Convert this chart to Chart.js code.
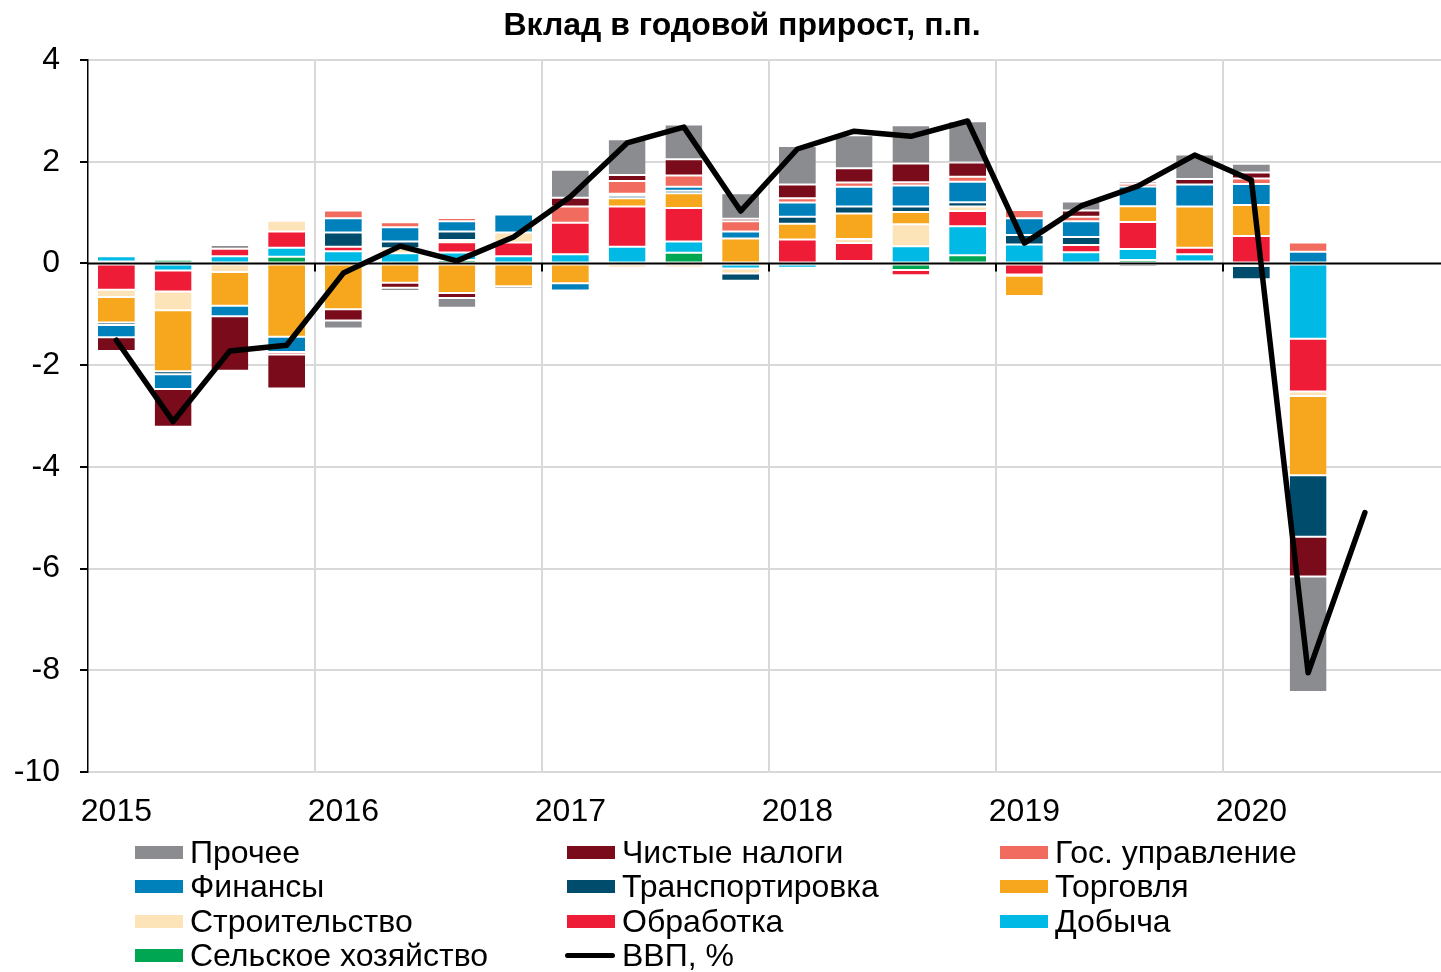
<!DOCTYPE html>
<html>
<head>
<meta charset="utf-8">
<script src="https://cdn.jsdelivr.net/npm/chart.js@4"></script>
<style>
  html, body { margin: 0; padding: 0; background: #fff; overflow: hidden; }
  .wrap { position: relative; width: 1460px; height: 972px; }
  #title {
    position: absolute; left: 0; top: 5px; width: 1484px; text-align: center;
    font-family: 'Liberation Sans', Arial, sans-serif; font-size: 32px; font-weight: bold;
    line-height: 38px; color: #000;
  }
  #legend {
    position: absolute; left: 135px; top: 835px;
    display: grid; grid-template-columns: 432px 433px 300px;
    font-family: 'Liberation Sans', Arial, sans-serif; font-size: 32px; color: #000;
  }
  .item { height: 34.5px; display: flex; align-items: center; white-space: nowrap; }
  .sw { width: 48px; height: 13px; margin-right: 7px; flex: none; }
  .sw.line { height: 5px; border-radius: 3px; width: 50px; margin-left: -2px; }
</style>
</head>
<body>
<div class="wrap">
  <canvas id="chart"></canvas>
  <div id="title">Вклад в годовой прирост, п.п.</div>
  <div id="legend"></div>
</div>
<script>
// quarters 2015 Q1 .. 2020 Q4
const quarters = [];
for (let yr = 2015; yr <= 2020; yr++) {
  for (let q = 1; q <= 4; q++) quarters.push(yr + ' Q' + q);
}

// contributions, p.p. (stack order from zero outwards)
const agri      = [0.04, 0.07, 0, 0.13, 0, 0, 0.065, 0.02, 0, 0, 0.21, 0, 0, 0.05, -0.13, 0.16, -0.02, 0, 0.065, 0.04, 0, 0];
const mining    = [0.10, -0.14, 0.14, 0.18, 0.24, 0.20, 0.15, 0.12, 0.18, 0.33, 0.22, -0.10, -0.085, 0, 0.34, 0.57, 0.37, 0.22, 0.22, 0.14, -0.05, -1.48];
const manuf     = [-0.52, -0.41, 0.15, 0.32, 0.09, 0, 0.20, 0.27, 0.62, 0.79, 0.66, 0, 0.47, 0.35, -0.10, 0.30, -0.20, 0.14, 0.53, 0.13, 0.54, -1.04];
const constr    = [-0.14, -0.37, -0.17, 0.21, 0, 0.10, 0.045, 0.20, 0, -0.085, -0.08, -0.10, 0, 0.08, 0.43, 0.09, -0.02, -0.05, 0, 0, 0, -0.085];
const trade     = [-0.50, -1.20, -0.66, -1.44, -0.90, -0.38, -0.58, -0.45, -0.39, 0.16, 0.29, 0.49, 0.31, 0.50, 0.24, 0, -0.40, -0.04, 0.31, 0.81, 0.61, -1.56];
const transport = [-0.05, -0.06, 0, 0, 0.28, 0.13, 0.17, 0, 0, 0.05, 0.05, -0.14, 0.14, 0.14, 0.11, 0.085, 0.19, 0.16, 0, 0, -0.26, -1.21];
const finance   = [-0.24, -0.29, -0.21, -0.30, 0.28, 0.28, 0.20, 0.35, -0.14, 0.04, 0.08, 0.14, 0.28, 0.39, 0.41, 0.40, 0.33, 0.31, 0.39, 0.43, 0.41, 0.23];
const gov       = [0, 0, 0, -0.05, 0.15, 0.10, 0.065, 0, 0.32, 0.25, 0.22, 0.20, 0.08, 0.08, 0.065, 0.10, 0.16, 0.09, 0.05, 0, 0.11, 0.18];
const taxes     = [-0.27, -0.74, -1.07, -0.67, -0.22, -0.10, -0.10, 0, 0.17, 0.12, 0.32, 0.05, 0.27, 0.28, 0.37, 0.28, 0, 0.12, 0.045, 0.11, 0.12, -0.78];
const other     = [0, 0, 0.07, 0, -0.16, -0.06, -0.19, -0.05, 0.55, 0.70, 0.68, 0.50, 0.76, 0.65, 0.75, 0.81, -0.03, 0.18, -0.07, 0.48, 0.17, -2.27];

// GDP, % y/y
const gdp = [-1.51, -3.11, -1.72, -1.61, -0.19, 0.34, 0.05, 0.52, 1.31, 2.37, 2.68, 1.03, 2.25, 2.60, 2.50, 2.80, 0.40, 1.13, 1.52, 2.13, 1.64, -8.05, -4.90, null];

const yTicks = [4, 2, 0, -2, -4, -6, -8, -10];

const series = [
  { label: 'Сельское хозяйство', data: agri,      color: '#00a651' },
  { label: 'Добыча',             data: mining,    color: '#00b9e4' },
  { label: 'Обработка',          data: manuf,     color: '#ee1c36' },
  { label: 'Строительство',      data: constr,    color: '#fde3b8' },
  { label: 'Торговля',           data: trade,     color: '#f7a71e' },
  { label: 'Транспортировка',    data: transport, color: '#004c6d' },
  { label: 'Финансы',            data: finance,   color: '#0081bc' },
  { label: 'Гос. управление',    data: gov,       color: '#f26b5f' },
  { label: 'Чистые налоги',      data: taxes,     color: '#7a0b1a' },
  { label: 'Прочее',             data: other,     color: '#8b8c90' }
];

const datasets = series.map(s => ({
  type: 'bar',
  label: s.label,
  data: s.data.map(v => v === 0 ? null : v),
  backgroundColor: s.color,
  borderColor: '#fff',
  borderWidth: { top: 1, bottom: 1, left: 0, right: 0 },
  borderSkipped: false,
  barPercentage: 0.65,
  categoryPercentage: 1,
  order: 1
}));

datasets.push({
  type: 'line',
  label: 'ВВП, %',
  data: gdp,
  borderColor: '#000',
  borderWidth: 5.5,
  borderCapStyle: 'round',
  borderJoinStyle: 'round',
  pointRadius: 0,
  tension: 0,
  stack: 'gdp',
  order: 0
});

// black zero line with year tick marks, drawn above the bars
const zeroLine = {
  id: 'zeroLine',
  afterDatasetsDraw(chart) {
    const { ctx, chartArea, scales: { x, y } } = chart;
    const y0 = y.getPixelForValue(0);
    ctx.save();
    ctx.strokeStyle = '#000';
    ctx.lineWidth = 2;
    ctx.beginPath();
    ctx.moveTo(chartArea.left, y0);
    ctx.lineTo(chartArea.right, y0);
    for (let i = 4; i < quarters.length; i += 4) {
      const xb = (x.getPixelForValue(i - 1) + x.getPixelForValue(i)) / 2;
      ctx.moveTo(xb, y0);
      ctx.lineTo(xb, y0 + 8);
    }
    ctx.stroke();
    ctx.restore();
  }
};

const font = { family: "'Liberation Sans', Arial, sans-serif", size: 32 };

const chart = new Chart(document.getElementById('chart'), {
  data: { labels: quarters, datasets: datasets },
  options: {
    responsive: true,
    maintainAspectRatio: false,
    animation: false,
    layout: { padding: { left: 0, right: 10, top: 60, bottom: 140 } },
    plugins: {
      legend: { display: false },
      tooltip: { enabled: false },
      title: { display: false }
    },
    scales: {
      x: {
        stacked: true,
        offset: true,
        border: { display: false },
        grid: {
          offset: true,
          drawTicks: false,
          lineWidth: 2,
          color: c => (c.index > 0 && c.index % 4 === 0) ? '#d9d9d9' : 'rgba(0,0,0,0)'
        },
        ticks: {
          autoSkip: false,
          maxRotation: 0,
          padding: 21,
          color: '#000',
          font: font,
          callback: (v, i) => i % 4 === 0 ? quarters[i].slice(0, 4) : ''
        },
        afterFit: s => { s.height = 60; }
      },
      y: {
        stacked: true,
        min: -10,
        max: 4,
        border: { display: true, color: '#000', width: 1.5 },
        grid: {
          lineWidth: 2,
          color: c => c.tick && c.tick.value === 0 ? 'rgba(0,0,0,0)' : '#d9d9d9',
          tickColor: '#000',
          tickLength: 8
        },
        afterBuildTicks: s => { s.ticks = yTicks.map(v => ({ value: v })); },
        ticks: { padding: 20, color: '#000', font: font },
        afterFit: s => { s.width = 88; }
      }
    }
  },
  plugins: [zeroLine]
});

// legend in three columns: stack order reversed, then the line
const legend = document.getElementById('legend');
const entries = series.slice().reverse().map(s => ({ label: s.label, color: s.color, line: false }));
entries.push({ label: 'ВВП, %', color: '#000', line: true });
entries.forEach(e => {
  const it = document.createElement('div');
  it.className = 'item';
  const sw = document.createElement('span');
  sw.className = 'sw' + (e.line ? ' line' : '');
  sw.style.background = e.color;
  it.appendChild(sw);
  it.appendChild(document.createTextNode(e.label));
  legend.appendChild(it);
});
</script>
</body>
</html>
